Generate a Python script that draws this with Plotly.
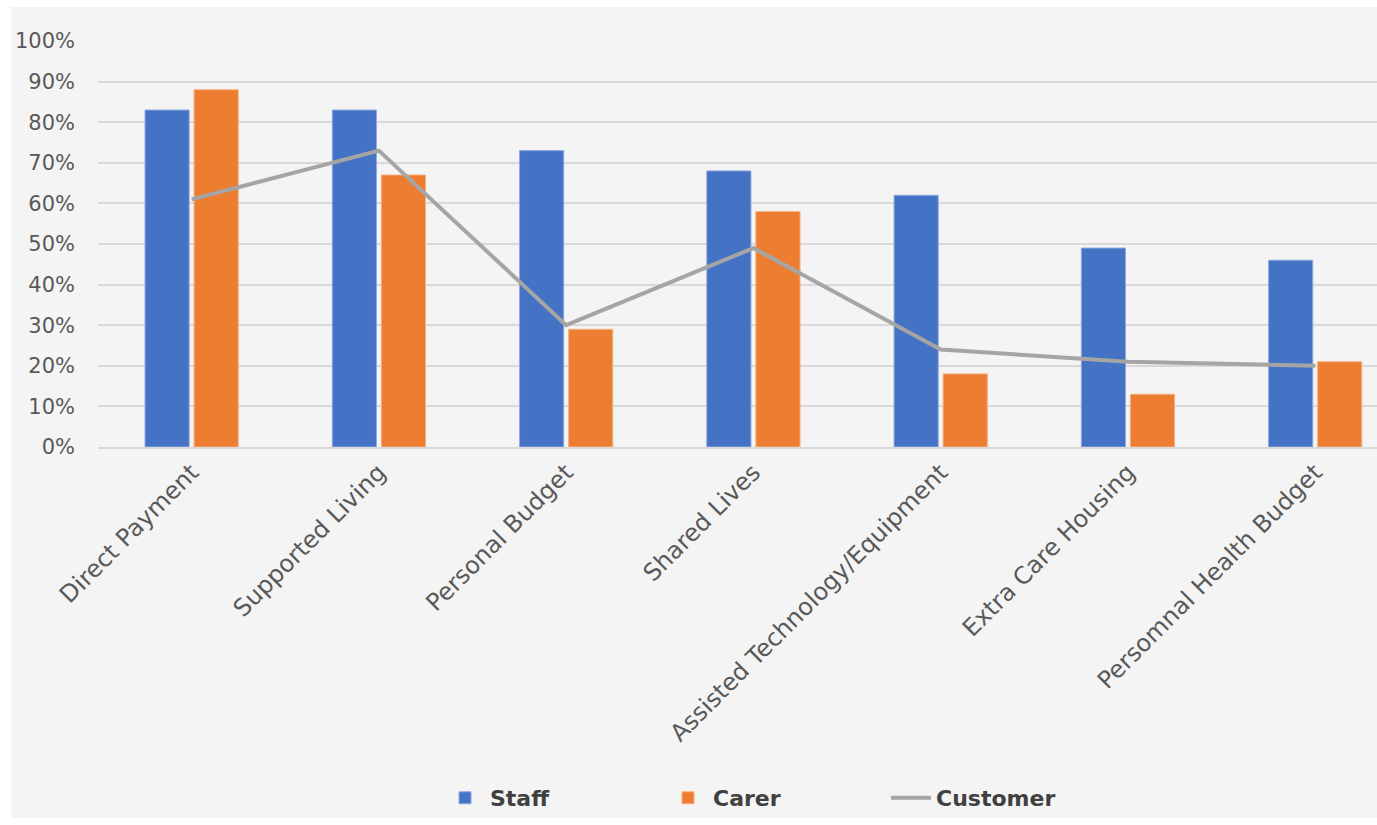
import plotly.graph_objects as go

categories = ["Direct Payment", "Supported Living", "Personal Budget", "Shared Lives",
              "Assisted Technology/Equipment", "Extra Care Housing", "Persomnal Health Budget"]
staff = [0.83, 0.83, 0.73, 0.68, 0.62, 0.49, 0.46]
carer = [0.88, 0.67, 0.29, 0.58, 0.18, 0.13, 0.21]
customer = [0.61, 0.73, 0.30, 0.49, 0.24, 0.21, 0.20]
y_ticks = [0, 0.1, 0.2, 0.3, 0.4, 0.5, 0.6, 0.7, 0.8, 0.9, 1.0]

W, H = 1377, 825
ML, MR, MT, MB = 98, 0, 41, 825 - 447
PW, PH = W - ML - MR, H - MT - MB

def px_x(p):  # page pixel -> paper x
    return (p - ML) / PW

def px_y(p):  # page pixel -> paper y
    return (H - MB - p) / PH

fig = go.Figure()
fig.add_trace(go.Bar(x=categories, y=staff, name="Staff",
                     marker=dict(color="#4472C4", line=dict(color="#8fa9dc", width=1))))
fig.add_trace(go.Bar(x=categories, y=carer, name="Carer",
                     marker=dict(color="#ED7D31", line=dict(color="#f4b183", width=1))))
fig.add_trace(go.Scatter(x=categories, y=customer, name="Customer", mode="lines",
                         line=dict(color="#A5A5A5", width=4)))

fig.add_shape(type="rect", xref="paper", yref="paper",
              x0=px_x(11), x1=px_x(1380), y0=px_y(818), y1=px_y(7),
              fillcolor="#f4f4f4", line=dict(width=0), layer="below")

fig.update_layout(
    width=W, height=H,
    margin=dict(l=ML, r=MR, t=MT, b=MB),
    paper_bgcolor="white",
    plot_bgcolor="rgba(0,0,0,0)",
    barmode="group",
    bargap=0.476,
    bargroupgap=0.1,
    font=dict(family="DejaVu Sans", color="#595959"),
    showlegend=True,
    legend=dict(orientation="h", x=px_x(440), xanchor="left",
                y=px_y(798), yanchor="middle",
                font=dict(size=22, color="#404040", family="DejaVu Sans", weight="bold"),
                entrywidth=168, entrywidthmode="pixels",
                itemwidth=40, bgcolor="rgba(0,0,0,0)", traceorder="normal"),
)
fig.update_yaxes(range=[0, 1.0], tickvals=y_ticks, tickformat=".0%",
                 showgrid=True, gridcolor="#d9d9d9", gridwidth=1.5,
                 zeroline=False, showline=False,
                 tickfont=dict(size=21, color="#595959"),
                 ticklabelstandoff=22)
fig.update_xaxes(range=[-0.5, 6.33], tickangle=-45, tickfont=dict(size=24, color="#595959"),
                 showline=True, linecolor="#d9d9d9", linewidth=1.5,
                 showgrid=False, ticks="")

fig.write_html("out.html", config={"displayModeBar": False},
               post_script="document.body.style.margin='0';document.body.style.overflow='hidden';")
